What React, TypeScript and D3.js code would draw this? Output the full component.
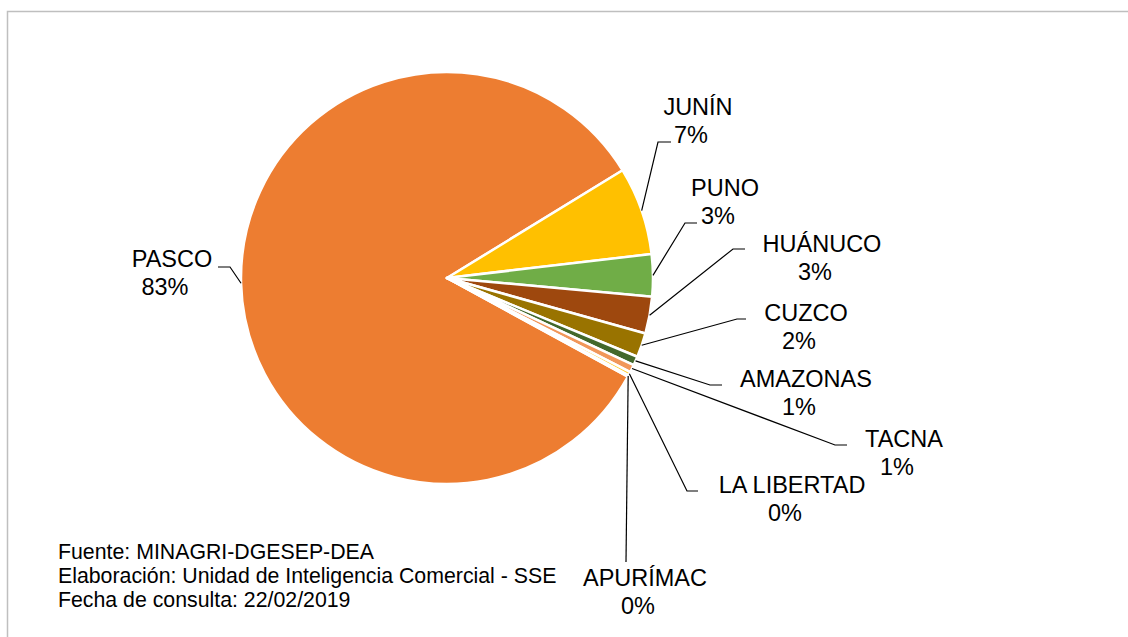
import * as React from 'react';
import * as d3 from 'd3';

// production share by region (%), in the order Excel draws them
const regions: string[] = ['PASCO', 'JUNÍN', 'PUNO', 'HUÁNUCO', 'CUZCO', 'AMAZONAS', 'TACNA', 'LA LIBERTAD', 'APURÍMAC'];
const shares: number[] = [83.3, 6.9, 3.3, 2.9, 1.9, 0.7, 0.6, 0.3, 0.1];
const sliceColors: string[] = ['#ED7D31', '#FFC000', '#70AD47', '#9E480E', '#997300', '#43682B', '#F1975A', '#FFCD33', '#8CC168'];
const sourceNotes: string[] = [
	'Fuente: MINAGRI-DGESEP-DEA',
	'Elaboración: Unidad de Inteligencia Comercial - SSE',
	'Fecha de consulta: 22/02/2019',
];

// angle of first slice, degrees clockwise from 12 o'clock
const firstSliceDeg = 118.6;

// where each data label sits and where its leader line bends
interface ILabelPlace {
	x: number;
	y: number;
	elbow: [number, number];
	end: [number, number];
}
const labelPlaces: { [name: string]: ILabelPlace } = {
	PASCO: { x: 172, y: 267, elbow: [230, 267], end: [218, 267] },
	'JUNÍN': { x: 698, y: 115, elbow: [658, 142], end: [671, 142] },
	PUNO: { x: 725, y: 196, elbow: [685, 223], end: [697, 223] },
	'HUÁNUCO': { x: 822, y: 252, elbow: [733, 249], end: [745, 249] },
	CUZCO: { x: 806, y: 321, elbow: [737, 319], end: [746, 319] },
	AMAZONAS: { x: 806, y: 387, elbow: [710, 385], end: [722, 385] },
	TACNA: { x: 904, y: 447, elbow: [835, 445], end: [847, 445] },
	'LA LIBERTAD': { x: 792, y: 493, elbow: [687, 491], end: [698, 491] },
	'APURÍMAC': { x: 645, y: 586, elbow: [626, 562], end: [626, 562] },
};

const width = 1128;
const height = 637;
const cx = 447;
const cy = 278;
const radius = 206;
const font = '"Liberation Sans", Arial, sans-serif';

export default function App() {
	const total = d3.sum(shares);
	const rot = (firstSliceDeg * Math.PI) / 180;
	const pie = d3
		.pie<number>()
		.sort(null)
		.value((d) => d)
		.startAngle(rot)
		.endAngle(rot + 2 * Math.PI);
	const arcs = pie(shares);
	const arcPath = d3.arc<d3.PieArcDatum<number>>().innerRadius(0).outerRadius(radius);
	const pct = (v: number) => `${Math.round((v / total) * 100)}%`;

	// point on the rim at the middle of a slice
	const rimPoint = (a: d3.PieArcDatum<number>): [number, number] => {
		const mid = (a.startAngle + a.endAngle) / 2;
		return [cx + radius * Math.sin(mid), cy - radius * Math.cos(mid)];
	};

	return (
		<div style={{ position: 'absolute', left: 0, top: 0 }}>
			<svg width={width} height={height} style={{ display: 'block', background: '#fff' }}>
				<rect x={7.5} y={11.5} width={width + 10} height={height + 10} fill="#fff" stroke="#BFBFBF" strokeWidth={1.5} />
				<g transform={`translate(${cx},${cy})`}>
					{arcs.map((a, i) => (
						<path key={regions[i]} d={arcPath(a) || ''} fill={sliceColors[i]} stroke="#fff" strokeWidth={2.5} strokeLinejoin="round" />
					))}
				</g>
				{arcs.map((a, i) => {
					const place = labelPlaces[regions[i]];
					const start = rimPoint(a);
					const line = d3.line()([start, place.elbow, place.end]);
					return <path key={'l' + i} d={line || ''} fill="none" stroke="#000" strokeWidth={1.2} />;
				})}
				{arcs.map((a, i) => {
					const place = labelPlaces[regions[i]];
					return (
						<g key={'t' + i} fontFamily={font} fontSize={23.5} fill="#000" textAnchor="middle">
							<text x={place.x} y={place.y}>
								{regions[i]}
							</text>
							<text x={place.x - 7} y={place.y + 28}>
								{pct(shares[i])}
							</text>
						</g>
					);
				})}
				<g fontFamily={font} fontSize={21.3} fill="#000">
					{sourceNotes.map((t, i) => (
						<text key={t} x={58} y={559 + i * 24}>
							{t}
						</text>
					))}
				</g>
			</svg>
		</div>
	);
}
